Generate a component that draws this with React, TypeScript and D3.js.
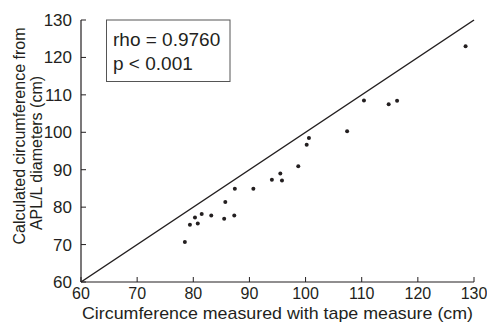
import * as d3 from 'd3';

const tapeCm = [
  78.5, 79.4, 80.3, 80.8, 81.5, 83.2, 85.5, 85.7, 87.3, 87.4, 90.7,
  94.0, 95.5, 95.8, 98.7, 100.2, 100.6, 107.4, 110.4, 114.8, 116.3, 128.5,
];
const calcCm = [
  70.7, 75.3, 77.2, 75.6, 78.2, 77.8, 76.9, 81.4, 77.8, 84.9, 84.9,
  87.3, 89.0, 87.1, 90.9, 96.7, 98.5, 100.3, 108.5, 107.5, 108.4, 123.0,
];
const tickValues = [60, 70, 80, 90, 100, 110, 120, 130];
const statLines = ['rho = 0.9760', 'p < 0.001'];

const W = 487;
const H = 324;
const margin = { top: 20, right: 13, bottom: 42, left: 81 };
const font = '"Liberation Sans", Arial, sans-serif';
const ink = '#231f20';

export default function App() {
  const x = d3.scaleLinear().domain([60, 130]).range([margin.left, W - margin.right]);
  const y = d3.scaleLinear().domain([60, 130]).range([H - margin.bottom, margin.top]);
  const points = tapeCm.map((t, i) => ({ t, c: calcCm[i] }));
  const identity = d3.line<number>().x(d => x(d)).y(d => y(d))([60, 130]) ?? '';

  return (
    <svg width={W} height={H} style={{ position: 'absolute', left: 0, top: 0, background: '#fff' }}
      fontFamily={font}>
      {/* axes */}
      <line x1={x(60)} x2={x(130)} y1={y(60)} y2={y(60)} stroke={ink} strokeWidth={1.2} />
      <line x1={x(60)} x2={x(60)} y1={y(60)} y2={y(130)} stroke={ink} strokeWidth={1.2} />
      {tickValues.map(v => (
        <g key={'x' + v}>
          <line x1={x(v)} x2={x(v)} y1={y(60)} y2={y(60) - 5} stroke={ink} strokeWidth={1} />
          <text x={x(v)} y={y(60) + 17} textAnchor="middle" fontSize={16} fill={ink}>{v}</text>
        </g>
      ))}
      {tickValues.map(v => (
        <g key={'y' + v}>
          <line x1={x(60)} x2={x(60) + 5} y1={y(v)} y2={y(v)} stroke={ink} strokeWidth={1} />
          <text x={x(60) - 9} y={y(v)} dy="0.35em" textAnchor="end" fontSize={17} fill={ink}>{v}</text>
        </g>
      ))}
      {/* line of identity */}
      <path d={identity} fill="none" stroke={ink} strokeWidth={1.5} />
      {points.map((p, i) => (
        <circle key={i} cx={x(p.t)} cy={y(p.c)} r={2} fill={ink} />
      ))}
      {/* stats box */}
      <rect x={106.5} y={20} width={123.5} height={61.5} fill="#fff" stroke="#555" strokeWidth={1} />
      {statLines.map((s, i) => (
        <text key={s} x={113} y={46 + i * 24} fontSize={19} fill={ink}>{s}</text>
      ))}
      {/* axis titles */}
      <text x={(x(60) + x(130)) / 2} y={319} textAnchor="middle" fontSize={17}
        textLength={391} lengthAdjust="spacingAndGlyphs" fill={ink}>
        Circumference measured with tape measure (cm)
      </text>
      <text transform="translate(25,136) rotate(-90)" textAnchor="middle" fontSize={16} fill={ink}>
        Calculated circumference from
      </text>
      <text transform="translate(42,153) rotate(-90)" textAnchor="middle" fontSize={16} fill={ink}>
        APL/L diameters (cm)
      </text>
    </svg>
  );
}
